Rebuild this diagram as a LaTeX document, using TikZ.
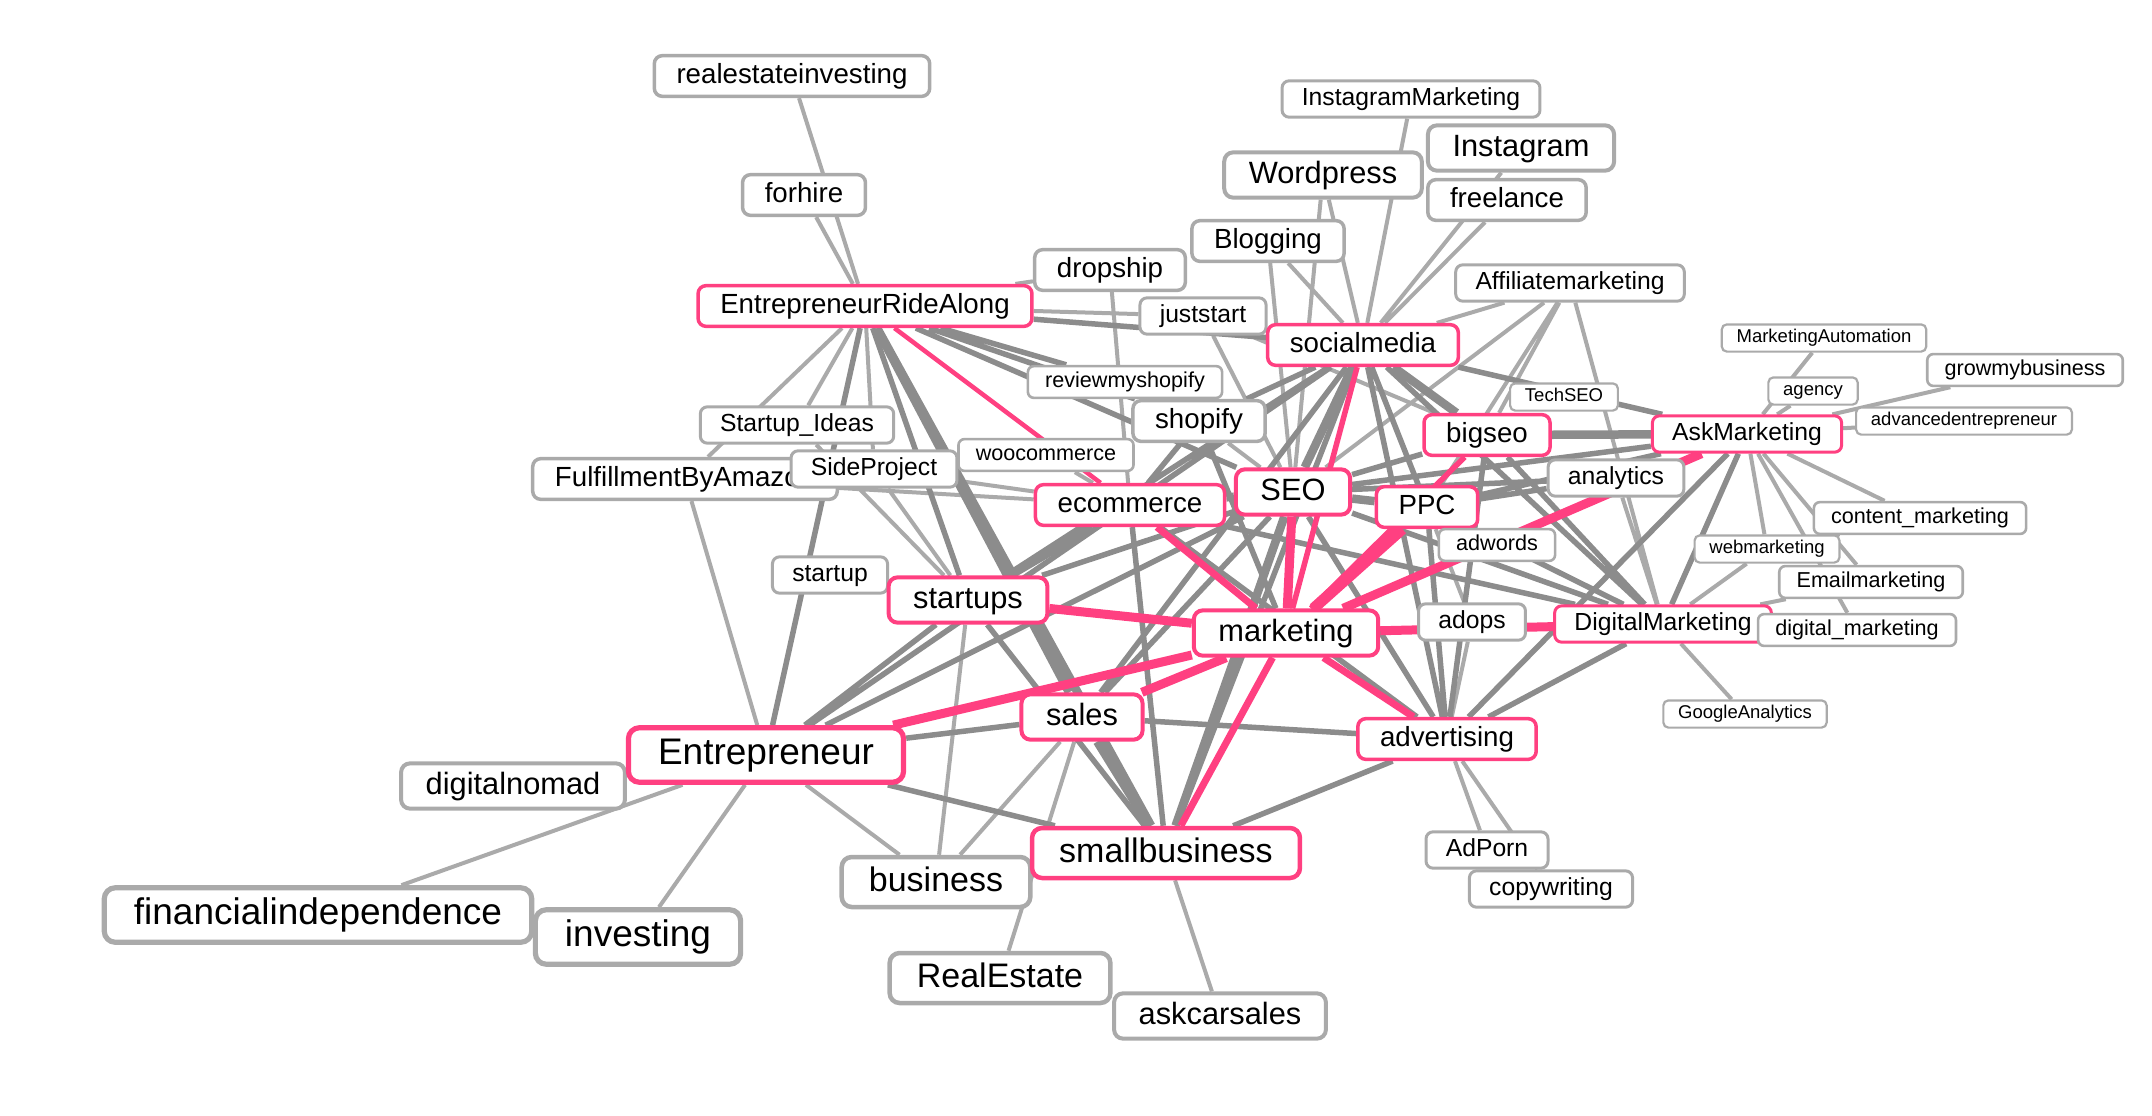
\documentclass[tikz,border=0pt]{standalone}
\usepackage{fontspec}
\setmainfont{Liberation Sans}
\usetikzlibrary{backgrounds}

\definecolor{hubpink}{RGB}{255,64,129}
\definecolor{tagrim}{RGB}{170,170,170}
\definecolor{linklite}{RGB}{170,170,170}
\definecolor{linkgrey}{RGB}{140,140,140}

\begin{document}
\begin{tikzpicture}[
    x=1pt, y=-1pt,
% Tag styles
    tag/.style={rectangle, draw=tagrim, fill=white, text=black},
    hub/.style={tag, draw=hubpink},
    t1/.style={font=\fontsize{18.5}{20}\selectfont, text height=13.9pt, text depth=4.1pt, inner xsep=14.8pt, inner ysep=4.6pt, line width=2.2pt, rounded corners=5pt},
    t2/.style={font=\fontsize{21.6}{23}\selectfont, text height=16.2pt, text depth=4.8pt, inner xsep=17.3pt, inner ysep=5.4pt, line width=2.6pt, rounded corners=6pt},
    t3/.style={font=\fontsize{24.7}{26}\selectfont, text height=18.5pt, text depth=5.4pt, inner xsep=19.8pt, inner ysep=6.2pt, line width=3pt, rounded corners=7pt},
    t4/.style={font=\fontsize{27.7}{29}\selectfont, text height=20.8pt, text depth=6.1pt, inner xsep=22.2pt, inner ysep=6.9pt, line width=3.5pt, rounded corners=8pt},
    t5/.style={font=\fontsize{30.8}{32}\selectfont, text height=23.1pt, text depth=6.8pt, inner xsep=24.6pt, inner ysep=7.7pt, line width=4pt, rounded corners=9pt},
    t6/.style={font=\fontsize{34}{36}\selectfont, text height=25.5pt, text depth=7.5pt, inner xsep=27.2pt, inner ysep=8.5pt, line width=4.5pt, rounded corners=10pt},
    t7/.style={font=\fontsize{37}{39}\selectfont, text height=27.8pt, text depth=8.1pt, inner xsep=29.6pt, inner ysep=9.3pt, line width=5.2pt, rounded corners=11pt},
% Link styles
    lite/.style={draw=linklite, line width=4pt},
    link/.style={draw=linkgrey, line width=5.5pt},
    heavy/.style={draw=linkgrey, line width=8.5pt},
    hot/.style={draw=hubpink, line width=9pt}
]
\useasboundingbox (0,0) rectangle (2152,1116);

% 1. Upper left tags
\node[tag,t4] (rei) at (792,76) {realestateinvesting};
\node[tag,t4] (fh) at (804,195) {forhire};
\node[hub,t4] (era) at (865,306) {EntrepreneurRideAlong};
\node[tag,t4] (drop) at (1110,270) {dropship};
\node[tag,t3] (just) at (1203,316) {juststart};
\node[tag,t2] (rms) at (1125,382) {reviewmyshopify};
\node[tag,t3] (si) at (797,425) {Startup\_Ideas};
\node[tag,t4] (fba) at (685,479) {FulfillmentByAmazon};
\node[tag,t3] (sp) at (874,469) {SideProject};
\node[tag,t2] (woo) at (1046,455) {woocommerce};
\node[tag,t4] (shop) at (1199,421) {shopify};
\node[hub,t4] (ecom) at (1130,505) {ecommerce};
\node[hub,t5] (seo) at (1293,492) {SEO};

% 2. Social tags
\node[tag,t4] (blog) at (1268,241) {Blogging};
\node[tag,t3] (igm) at (1411,99) {InstagramMarketing};
\node[tag,t5] (wp) at (1323,175) {Wordpress};
\node[tag,t5] (ig) at (1521,148) {Instagram};
\node[tag,t4] (fl) at (1507,200) {freelance};
\node[hub,t4] (sm) at (1363,345) {socialmedia};
\node[tag,t3] (aff) at (1570,283) {Affiliatemarketing};

% 3. Marketing tags on the right
\node[tag,t1] (ma) at (1824,338) {MarketingAutomation};
\node[tag,t2] (gmb) at (2025,370) {growmybusiness};
\node[tag,t1] (ag) at (1813,391) {agency};
\node[tag,t1] (ade) at (1964,421) {advancedentrepreneur};
\node[tag,t1] (tseo) at (1564,397) {TechSEO};
\node[hub,t4] (bs) at (1487,435) {bigseo};
\node[hub,t3] (am) at (1747,434) {AskMarketing};
\node[tag,t3] (an) at (1616,478) {analytics};
\node[hub,t4] (ppc) at (1427,507) {PPC};
\node[tag,t2] (adw) at (1497,545) {adwords};
\node[tag,t2] (cm) at (1920,518) {content\_marketing};
\node[tag,t1] (wm) at (1767,549) {webmarketing};
\node[tag,t2] (em) at (1871,582) {Emailmarketing};
\node[hub,t3] (dm) at (1663,624) {DigitalMarketing};
\node[tag,t2] (dmk) at (1857,630) {digital\_marketing};
\node[tag,t3] (ado) at (1472,622) {adops};
\node[tag,t1] (ga) at (1745,714) {GoogleAnalytics};

% 4. Lower tags
\node[tag,t3] (stu) at (830,575) {startup};
\node[hub,t5] (sts) at (968,600) {startups};
\node[hub,t5] (mkt) at (1286,633) {marketing};
\node[hub,t5] (sal) at (1082,717) {sales};
\node[tag,t5] (dn) at (513,786) {digitalnomad};
\node[hub,t7] (ent) at (766,755) {Entrepreneur};
\node[hub,t4] (adv) at (1447,739) {advertising};
\node[tag,t6] (bus) at (936,882) {business};
\node[hub,t6] (sb) at (1166,853) {smallbusiness};
\node[tag,t7] (fi) at (318,915) {financialindependence};
\node[tag,t7] (inv) at (638,937) {investing};
\node[tag,t6] (re) at (1000,978) {RealEstate};
\node[tag,t5] (acs) at (1220,1016) {askcarsales};
\node[tag,t3] (adp) at (1487,850) {AdPorn};
\node[tag,t3] (cw) at (1551,889) {copywriting};

\begin{pgfonlayer}{background}
% 5. Weak links
\draw[lite] (rei) -- (era) (fh) -- (era) (si) -- (era) (fba) -- (era) (sp) -- (era) (just) -- (era) (drop) -- (era)
    (si) -- (sts) (sp) -- (sts) (sp) -- (ecom) (fba) -- (ecom) (fba) -- (ent) (drop) -- (ecom) (woo) -- (ecom)
    (just) -- (seo) (just) -- (bs) (shop) -- (seo) (wp) -- (seo) (blog) -- (seo) (aff) -- (seo)
    (wp) -- (sm) (blog) -- (sm) (igm) -- (sm) (ig) -- (sm) (fl) -- (sm) (aff) -- (sm)
    (aff) -- (bs) (aff) -- (ppc) (aff) -- (dm) (an) -- (dm)
    (ma) -- (am) (ag) -- (am) (gmb) -- (am) (ade) -- (am) (cm) -- (am) (wm) -- (am) (em) -- (am) (dmk) -- (am)
    (wm) -- (cm) (wm) -- (dm) (em) -- (dm) (ga) -- (dm)
    (ppc) -- (ado) (ado) -- (adv) (adw) -- (ppc) (adp) -- (adv) (cw) -- (adv)
    (sts) -- (bus) (sal) -- (bus) (sal) -- (re) (ent) -- (bus) (ent) -- (inv) (ent) -- (fi) (acs) -- (sb);

% 6. Strong links
\draw[link] (era) -- (ent) (era) -- (sts) (era) -- (rms) (era) -- (shop) (era) -- (seo) (era) -- (sm)
    (ent) -- (sts) (ent) -- (ecom) (ent) -- (seo) (ent) -- (sm) (ent) -- (sal) (ent) -- (sb)
    (sts) -- (seo) (sts) -- (sm) (sts) -- (sb)
    (sal) -- (adv) (sal) -- (seo) (sal) -- (sm)
    (sb) -- (adv) (sb) -- (sm) (sb) -- (ecom)
    (ecom) -- (shop) (ecom) -- (sm) (ecom) -- (dm) (ecom) -- (adv)
    (seo) -- (bs) (seo) -- (am) (seo) -- (an) (seo) -- (dm) (seo) -- (adv)
    (shop) -- (sm) (shop) -- (mkt)
    (sm) -- (ppc) (sm) -- (am) (sm) -- (dm) (sm) -- (adv)
    (bs) -- (dm) (bs) -- (adv)
    (ppc) -- (an) (ppc) -- (am) (ppc) -- (dm) (ppc) -- (adv)
    (am) -- (dm) (am) -- (adv) (dm) -- (adv);
\draw[heavy] (sts) -- (ecom) (ecom) -- (seo) (seo) -- (ppc) (seo) -- (sm) (sm) -- (bs) (bs) -- (am)
    (sal) -- (sb) (sb) -- (seo) (era) -- (sal) (era) -- (sb);

% 7. Links between leading tags
\draw[hot] (mkt) -- (sts) (mkt) -- (sal) (mkt) -- (seo) (mkt) -- (am) (mkt) -- (dm) (mkt) -- (ent);
\draw[hot, line width=11pt] (mkt) -- (ppc);
\draw[hot, line width=7pt] (mkt) -- (sb) (mkt) -- (adv) (mkt) -- (ecom);
\draw[hot, line width=5.5pt] (mkt) -- (sm) (mkt) -- (bs);
\draw[hot, line width=4.5pt] (era) -- (ecom);
\end{pgfonlayer}

\end{tikzpicture}
\end{document}
